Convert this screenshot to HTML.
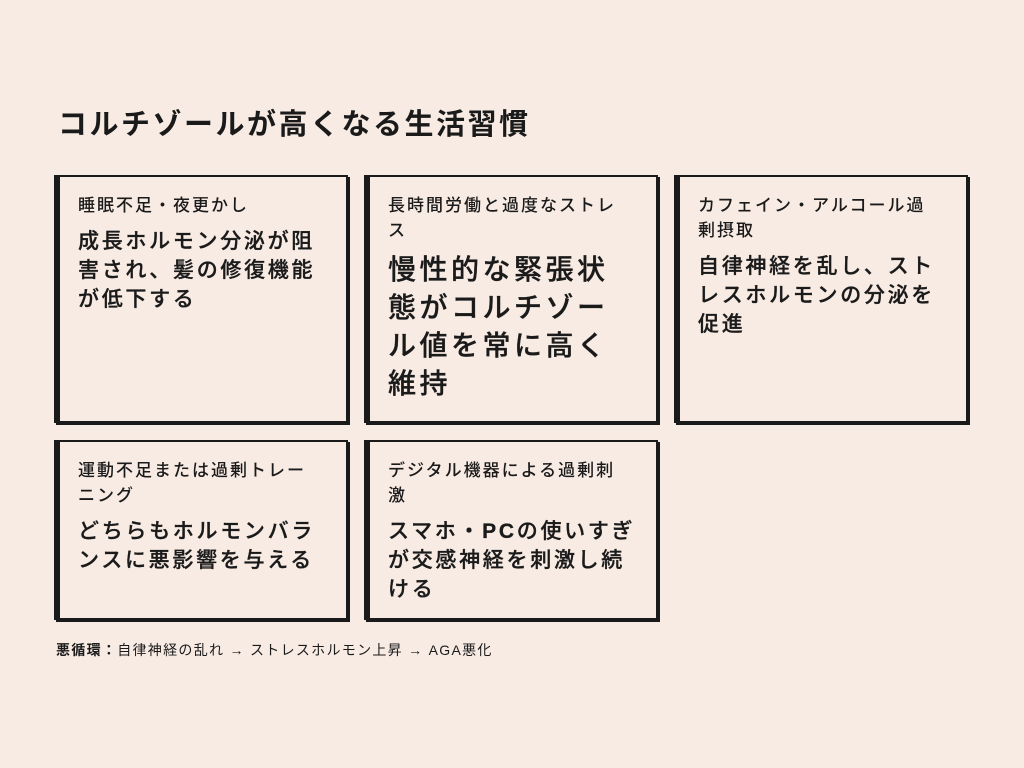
<!DOCTYPE html>
<html><head><meta charset="utf-8"><style>
body{margin:0;width:1024px;height:768px;background:#f8ebe4;font-family:"Liberation Sans","Noto Sans CJK JP",sans-serif;color:#1a1a1a;position:relative;overflow:hidden}
h1{position:absolute;left:58px;top:101px;margin:0;font-size:29px;font-weight:700;letter-spacing:2.5px}
.c{position:absolute;box-sizing:border-box;background:#f8ebe4;border:2px solid #1a1a1a;border-left:6px solid #1a1a1a;box-shadow:2px 2px 0 #1a1a1a;padding:16px 18px 0 18px}
.l{font-size:17px;line-height:25px;font-weight:500;letter-spacing:2px;width:240px}
.b{font-size:21px;line-height:29px;font-weight:500;margin-top:9px;letter-spacing:2.7px;width:252px;-webkit-text-stroke:0.3px #1a1a1a}
.big{font-size:28px;line-height:38px;letter-spacing:3.5px;width:230px;margin-top:8px}
.f{position:absolute;left:56px;top:640px;font-size:14px;letter-spacing:1.3px}
</style></head><body>
<h1>コルチゾールが高くなる生活習慣</h1>
<div class="c" style="left:54px;top:175px;width:294px;height:248px"><div class="l">睡眠不足・夜更かし</div><div class="b">成長ホルモン分泌が阻害され、髪の修復機能が低下する</div></div>
<div class="c" style="left:364px;top:175px;width:294px;height:248px"><div class="l">長時間労働と過度なストレス</div><div class="b big">慢性的な緊張状態がコルチゾール値を常に高く維持</div></div>
<div class="c" style="left:674px;top:175px;width:294px;height:248px"><div class="l">カフェイン・アルコール過剰摂取</div><div class="b">自律神経を乱し、ストレスホルモンの分泌を促進</div></div>
<div class="c" style="left:54px;top:440px;width:294px;height:180px"><div class="l">運動不足または過剰トレーニング</div><div class="b">どちらもホルモンバランスに悪影響を与える</div></div>
<div class="c" style="left:364px;top:440px;width:294px;height:180px"><div class="l">デジタル機器による過剰刺激</div><div class="b">スマホ・<b>PC</b>の使いすぎが交感神経を刺激し続ける</div></div>
<div class="f"><b>悪循環：</b>自律神経の乱れ → ストレスホルモン上昇 → AGA悪化</div>
</body></html>
